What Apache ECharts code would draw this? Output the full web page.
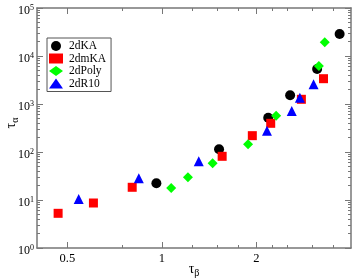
<!DOCTYPE html>
<html><head><meta charset="utf-8">
<script src="https://cdn.jsdelivr.net/npm/echarts@6/dist/echarts.min.js"></script>
<style>html,body{margin:0;padding:0;background:#fff}#c{width:353px;height:280px}</style>
</head><body><div id="c"></div>
<script>
// data: [tau_beta, tau_alpha]
var ka    = [[0.96,22.3],[1.52,114],[2.18,518],[2.56,1518],[3.12,5360],[3.68,28700]];
var mka   = [[0.467,5.28],[0.605,8.66],[0.804,18.4],[1.555,81.3],[1.94,219],[2.22,396],[2.78,1253],[3.27,3367]];
var poly  = [[1.07,17.8],[1.21,29.7],[1.45,58.1],[1.88,145],[2.31,571],[3.16,6190],[3.30,19300]];
var r10   = [[0.543,10.5],[0.844,28.3],[1.31,64],[2.16,278],[2.59,715],[2.75,1353],[3.04,2570]];
var xMajor = [0.5,1,2];
var xMinor = [0.75,1.25,1.5,1.75,2.25,2.5,3,3.5];
var yMajor = [1,10,100,1000,10000,100000];
var yMinor = [];
[1,10,100,1000,10000].forEach(function(d){for(var k=2;k<=9;k++)yMinor.push(k*d);});

var FONT = 'Liberation Serif';
var AX = '#777';
function xAx(pos, ticks, len, showLabel, showLine, extra){
  var o = {type:'log', logBase:10, min:0.4, max:4, position:pos, gridIndex:0,
    axisLine:{show:showLine, lineStyle:{color:AX, width:1.5}},
    axisTick:{show:true, inside:true, length:len, customValues:ticks, lineStyle:{color:AX, width:1}},
    axisLabel:{show:showLabel, customValues:ticks, color:'#000', fontFamily:FONT, fontSize:12.5, margin:4},
    splitLine:{show:false}, minorTick:{show:false}};
  for (var k in extra) o[k]=extra[k];
  return o;
}
function yAx(pos, ticks, len, showLabel, showLine){
  return {type:'log', logBase:10, min:1, max:100000, position:pos, gridIndex:0,
    axisLine:{show:showLine, lineStyle:{color:AX, width:1.5}},
    axisTick:{show:true, inside:true, length:len, customValues:ticks, lineStyle:{color:AX, width:1}},
    axisLabel:{show:showLabel, customValues:ticks, margin:3, padding:[6,0,0,0],
      formatter:function(v){return '{b|10}{s|'+Math.round(Math.log10(v))+'}';},
      rich:{b:{fontFamily:FONT,fontSize:12,color:'#000',lineHeight:14},
            s:{fontFamily:FONT,fontSize:8,color:'#000',lineHeight:8,verticalAlign:'top'}}},
    splitLine:{show:false}};
}
var chart = echarts.init(document.getElementById('c'), null, {renderer:'canvas'});
var xAxes = [
  xAx('bottom', xMajor, 6, true, true, {name:'{t|τ}{s|β}', nameLocation:'middle', nameGap:12, nameMoveOverlap:false,
    nameTextStyle:{rich:{t:{fontFamily:FONT,fontSize:14,color:'#000',lineHeight:18},
                         s:{fontFamily:FONT,fontSize:10,color:'#000',lineHeight:9,verticalAlign:'bottom'}}}}),
  xAx('bottom', xMinor, 3, false, false, {}),
  xAx('top', xMajor, 6, false, true, {}),
  xAx('top', xMinor, 3, false, false, {})
];
var y0 = yAx('left', yMajor, 6, true, true);
y0.name = '{t|τ}{s|α}'; y0.nameLocation='middle'; y0.nameGap=17; y0.nameRotate=90; y0.nameMoveOverlap=false;
y0.nameTextStyle = {padding:[0,0,0,10], rich:{t:{fontFamily:FONT,fontSize:14,color:'#000',lineHeight:18},
                          s:{fontFamily:FONT,fontSize:10,color:'#000',lineHeight:9,verticalAlign:'bottom'}}};
var yAxes = [y0, yAx('left', yMinor, 3, false, false), yAx('right', yMajor, 6, false, true), yAx('right', yMinor, 3, false, false)];

function ser(name, data, symbol, size, color){
  return {name:name, type:'scatter', data:data, symbol:symbol, symbolSize:size,
    xAxisIndex:0, yAxisIndex:0, itemStyle:{color:color, opacity:1}, emphasis:{disabled:true}, z:5};
}
chart.setOption({
  animation:false,
  grid:{left:37, right:2, top:8, bottom:32, containLabel:false, outerBoundsMode:'none'},
  xAxis:xAxes, yAxis:yAxes,
  legend:{orient:'vertical', left:47, top:38, padding:[2,5,2,2], itemGap:0.5,
    itemWidth:14, itemHeight:10, borderColor:'#555', borderWidth:1, backgroundColor:'#fff',
    textStyle:{fontFamily:FONT, fontSize:11.5, lineHeight:11, color:'#000', padding:[0,0,0,1]},
    data:[{name:'2dKA',icon:'circle'},{name:'2dmKA',icon:'rect'},{name:'2dPoly',icon:'diamond'},{name:'2dR10',icon:'triangle'}]},
  series:[
    ser('2dKA', ka, 'circle', 10, '#000000'),
    ser('2dmKA', mka, 'rect', 9, '#ff0000'),
    ser('2dPoly', poly, 'diamond', 10, '#00ff00'),
    ser('2dR10', r10, 'triangle', 10, '#0000ff')
  ]
});
</script></body></html>
